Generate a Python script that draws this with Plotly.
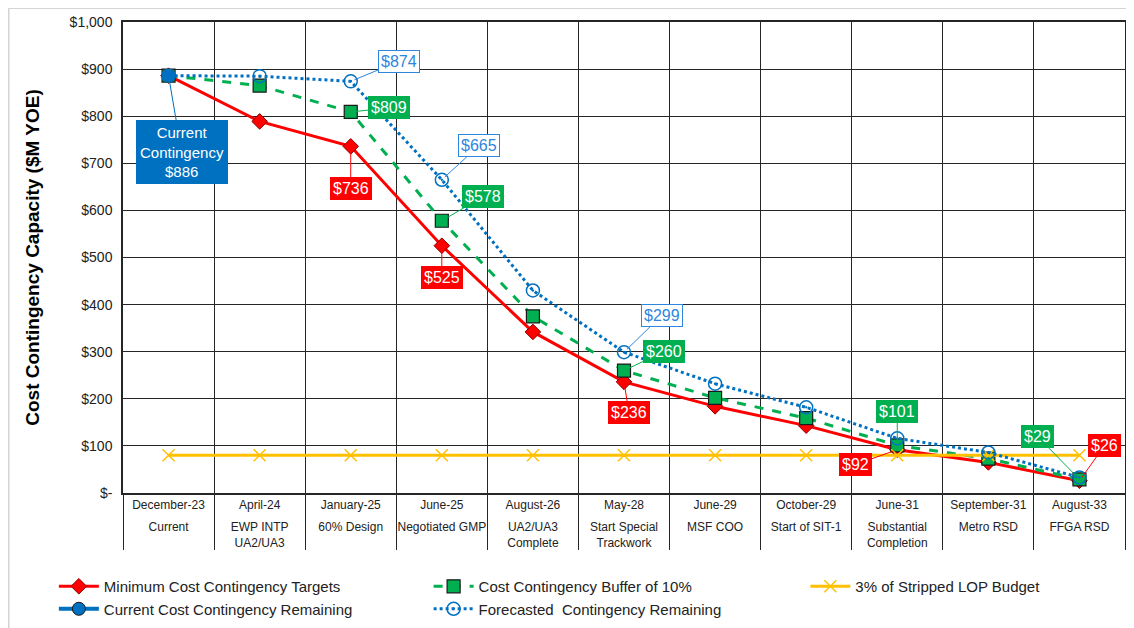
import plotly.graph_objects as go

# ---------------- data ----------------
dates = ["December-23", "April-24", "January-25", "June-25", "August-26", "May-28",
         "June-29", "October-29", "June-31", "September-31", "August-33"]
milestones = ["Current", "EWP INTP<br>UA2/UA3", "60% Design", "Negotiated GMP",
              "UA2/UA3<br>Complete", "Start Special<br>Trackwork", "MSF COO",
              "Start of SIT-1", "Substantial<br>Completion", "Metro RSD", "FFGA RSD"]
min_targets = [886, 789, 736, 525, 342, 236, 184, 143, 92, 65, 26]
buffer_10 = [886, 865, 809, 578, 375, 260, 202, 159, 101, 73, 29]
lop_3pct = [80, 80, 80, 80, 80, 80, 80, 80, 80, 80, 80]
current_dates = ["December-23"]
current_remaining = [886]
forecast = [886, 885, 874, 665, 430, 299, 232, 182, 116, 86, 33]

ytick_vals = [0, 100, 200, 300, 400, 500, 600, 700, 800, 900, 1000]
ytick_text = ["$-", "$100", "$200", "$300", "$400", "$500", "$600", "$700", "$800", "$900", "$1,000"]

RED = "#FF0000"
GREEN = "#00B050"
YELLOW = "#FFC000"
BLUE = "#0070C0"
LBLUE = "#2E86DE"
GRID = "#262626"
FONT = "Arial, Liberation Sans, sans-serif"

fig = go.Figure()

fig.add_trace(go.Scatter(
    x=dates, y=min_targets, name="Minimum Cost Contingency Targets", legend="legend",
    mode="lines+markers", line=dict(color=RED, width=3),
    marker=dict(symbol="diamond", size=12, color=RED, line=dict(color="#8B0000", width=1))))
fig.add_trace(go.Scatter(
    x=dates, y=buffer_10, name="Cost Contingency Buffer of 10%", legend="legend2",
    mode="lines+markers", line=dict(color=GREEN, width=3, dash="dash"),
    marker=dict(symbol="square", size=13, color=GREEN, line=dict(color="#1a1a1a", width=1.2))))
fig.add_trace(go.Scatter(
    x=dates, y=lop_3pct, name="3% of Stripped LOP Budget", legend="legend3",
    mode="lines+markers", line=dict(color=YELLOW, width=3),
    marker=dict(symbol="x-thin-open", size=12, color=YELLOW, line=dict(color=YELLOW, width=1.5))))
fig.add_trace(go.Scatter(
    x=current_dates, y=current_remaining, name="Current Cost Contingency Remaining", legend="legend",
    mode="lines+markers", line=dict(color=BLUE, width=4),
    marker=dict(symbol="circle", size=13, color=BLUE, line=dict(color="#1a1a1a", width=1))))
fig.add_trace(go.Scatter(
    x=dates, y=forecast, name="Forecasted  Contingency Remaining", legend="legend2",
    mode="lines+markers", line=dict(color=BLUE, width=3, dash="dot"),
    marker=dict(symbol="circle-open-dot", size=13, color=BLUE, line=dict(color=LBLUE, width=1.5))))

# invisible trace that carries the milestone axis
fig.add_trace(go.Scatter(x=milestones, y=[None] * len(milestones), xaxis="x2",
                         mode="lines", showlegend=False, hoverinfo="skip"))

# ---------------- data labels ----------------
series = {"min": min_targets, "buf": buffer_10, "fc": forecast}
styles = {
    "min": dict(bgcolor=RED, bordercolor=RED, font=dict(color="white", size=16, family=FONT), arrowcolor=RED),
    "buf": dict(bgcolor=GREEN, bordercolor=GREEN, font=dict(color="white", size=16, family=FONT), arrowcolor=GREEN),
    "fc": dict(bgcolor="white", bordercolor=LBLUE, font=dict(color=LBLUE, size=16, family=FONT), arrowcolor=LBLUE),
}
labels = [  # (series, index, ax, ay)
    ("fc", 2, 48, -20), ("buf", 2, 38, -4), ("min", 2, 0, 42),
    ("fc", 3, 37, -34), ("buf", 3, 41, -24), ("min", 3, 0, 32),
    ("fc", 5, 38, -37), ("buf", 5, 40, -19), ("min", 5, 5, 31),
    ("buf", 8, 0, -34), ("min", 8, -42, 15),
    ("buf", 10, -42, -43), ("min", 10, 25, -35),
]
for key, i, ax, ay in labels:
    v = series[key][i]
    fig.add_annotation(x=dates[i], y=v, text=f"${v}", ax=ax, ay=ay,
                       showarrow=True, arrowhead=0, arrowwidth=1, standoff=4,
                       borderwidth=1, borderpad=2, **styles[key])

fig.add_annotation(x=current_dates[0], y=current_remaining[0],
                   text=f"Current<br>Contingency<br>${current_remaining[0]}",
                   ax=13, ay=76, showarrow=True, arrowhead=0, arrowwidth=1, arrowcolor=BLUE,
                   standoff=4, bgcolor=BLUE, bordercolor=BLUE, borderwidth=1, borderpad=3,
                   font=dict(color="white", size=15, family=FONT))

# outer frame (top and left edges of the chart area)
fig.add_shape(type="line", xref="paper", yref="paper", x0=-0.114, x1=1.02, y0=1.029, y1=1.029,
              line=dict(color="#D4D4D4", width=1.5), layer="below")
fig.add_shape(type="line", xref="paper", yref="paper", x0=-0.114, x1=-0.114, y0=-0.3, y1=1.029,
              line=dict(color="#D4D4D4", width=1.5), layer="below")

leg_common = dict(orientation="v", xanchor="left", yanchor="top", yref="container", y=0.0935,
                  font=dict(size=15, color="#222222"), bgcolor="rgba(0,0,0,0)",
                  traceorder="normal", itemwidth=40)

fig.update_layout(
    width=1126, height=620,
    margin=dict(l=115, r=9, t=14, b=135),
    paper_bgcolor="white", plot_bgcolor="white",
    font=dict(family=FONT, color="#222222"),
    showlegend=True,
    legend=dict(x=-0.069, **leg_common),
    legend2=dict(x=0.305, **leg_common),
    legend3=dict(x=0.681, **leg_common),
    xaxis=dict(type="category", categoryarray=dates, categoryorder="array",
               range=[-0.5, 10.5], showgrid=True, gridcolor=GRID, gridwidth=1.2,
               tickson="boundaries", ticks="outside", ticklen=55, tickwidth=1.2, tickcolor=GRID,
               showline=True, linecolor=GRID, linewidth=1.5, mirror=True,
               tickfont=dict(size=12, color="#222222"), ticklabelstandoff=0,
               automargin=False, zeroline=False),
    xaxis2=dict(type="category", categoryarray=milestones, categoryorder="array",
                range=[-0.5, 10.5], overlaying="x", anchor="y", side="bottom",
                showgrid=False, ticks="", showline=False,
                tickfont=dict(size=12, color="#222222"), ticklabelstandoff=25,
                automargin=False, zeroline=False),
    yaxis=dict(range=[0, 1000], tickvals=ytick_vals, ticktext=ytick_text,
               showgrid=True, gridcolor=GRID, gridwidth=1.2,
               showline=True, linecolor=GRID, linewidth=1.5, mirror=True,
               ticks="", tickfont=dict(size=14, color="#222222"), ticklabelstandoff=6,
               title=dict(text="<b>Cost Contingency Capacity ($M YOE)</b>",
                          font=dict(size=19, color="#000000"), standoff=25),
               automargin=False, zeroline=False),
)

fig.write_html("out.html")
